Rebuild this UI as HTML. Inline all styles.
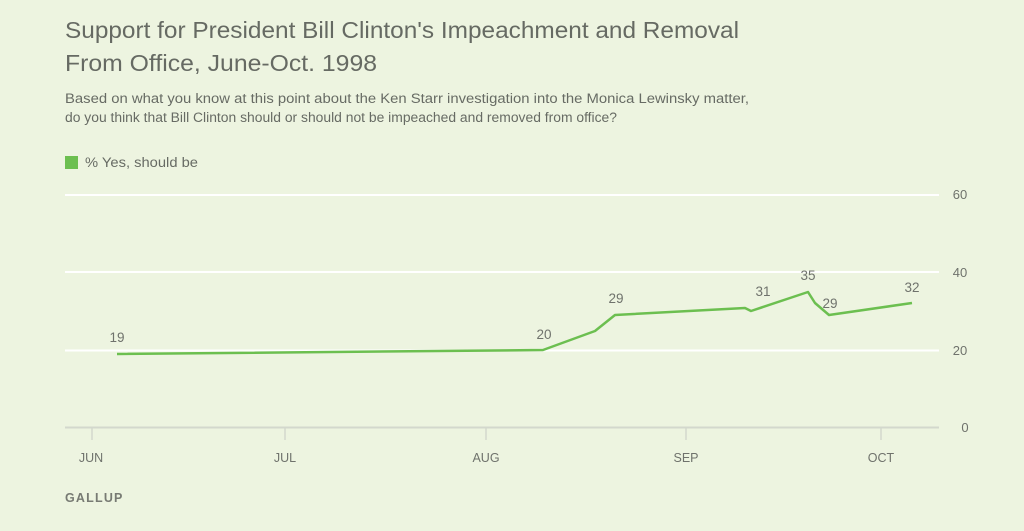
<!DOCTYPE html>
<html><head><meta charset="utf-8"><style>
html,body{margin:0;padding:0;background:#edf4e0;}
svg{display:block;}
text{font-family:"Liberation Sans",sans-serif;}
</style></head><body>
<svg width="1024" height="531" viewBox="0 0 1024 531" xmlns="http://www.w3.org/2000/svg">
<rect width="1024" height="531" fill="#edf4e0"/>
<text x="65" y="38" font-size="23" fill="#666a63" textLength="674" lengthAdjust="spacingAndGlyphs">Support for President Bill Clinton's Impeachment and Removal</text>
<text x="65" y="71" font-size="23" fill="#666a63" textLength="312" lengthAdjust="spacingAndGlyphs">From Office, June-Oct. 1998</text>
<text x="65" y="103" font-size="13.5" fill="#676b64" textLength="684" lengthAdjust="spacingAndGlyphs">Based on what you know at this point about the Ken Starr investigation into the Monica Lewinsky matter,</text>
<text x="65" y="122" font-size="13.5" fill="#676b64" textLength="552" lengthAdjust="spacingAndGlyphs">do you think that Bill Clinton should or should not be impeached and removed from office?</text>
<rect x="65" y="156" width="13" height="13" fill="#6cbf50"/>
<text x="85" y="167" font-size="13.5" fill="#676b64" textLength="113" lengthAdjust="spacingAndGlyphs">% Yes, should be</text>
<!-- gridlines -->
<g stroke="#ffffff" stroke-width="2">
<line x1="65" y1="195" x2="939" y2="195"/>
<line x1="65" y1="272" x2="939" y2="272"/>
<line x1="65" y1="350.5" x2="939" y2="350.5"/>
</g>
<line x1="65" y1="427.5" x2="939" y2="427.5" stroke="#d3d8cd" stroke-width="2"/>
<g stroke="#d3d8cd" stroke-width="1.5">
<line x1="92" y1="428" x2="92" y2="440"/>
<line x1="285" y1="428" x2="285" y2="440"/>
<line x1="486" y1="428" x2="486" y2="440"/>
<line x1="686" y1="428" x2="686" y2="440"/>
<line x1="881" y1="428" x2="881" y2="440"/>
</g>
<g font-size="13" fill="#6f726c" text-anchor="middle">
<text x="960" y="199">60</text>
<text x="960" y="277">40</text>
<text x="960" y="355">20</text>
<text x="965" y="432">0</text>
</g>
<g font-size="12.5" fill="#6f726c" text-anchor="middle">
<text x="91" y="462">JUN</text>
<text x="285" y="462">JUL</text>
<text x="486" y="462">AUG</text>
<text x="686" y="462">SEP</text>
<text x="881" y="462">OCT</text>
</g>
<text x="65" y="502" font-size="12.5" font-weight="bold" fill="#777a73" letter-spacing="1.2">GALLUP</text>
<polyline fill="none" stroke="#6cbf50" stroke-width="2.5" stroke-linejoin="round" points="117,354 543,350 595,331 615,315 745,308 751,311 808,292 815,303 829,315 912,303"/>
<g font-size="13.5" fill="#6f726c" text-anchor="middle">
<text x="117" y="342">19</text>
<text x="544" y="339">20</text>
<text x="616" y="303">29</text>
<text x="763" y="296">31</text>
<text x="808" y="280">35</text>
<text x="830" y="308">29</text>
<text x="912" y="292">32</text>
</g>
</svg>
</body></html>
